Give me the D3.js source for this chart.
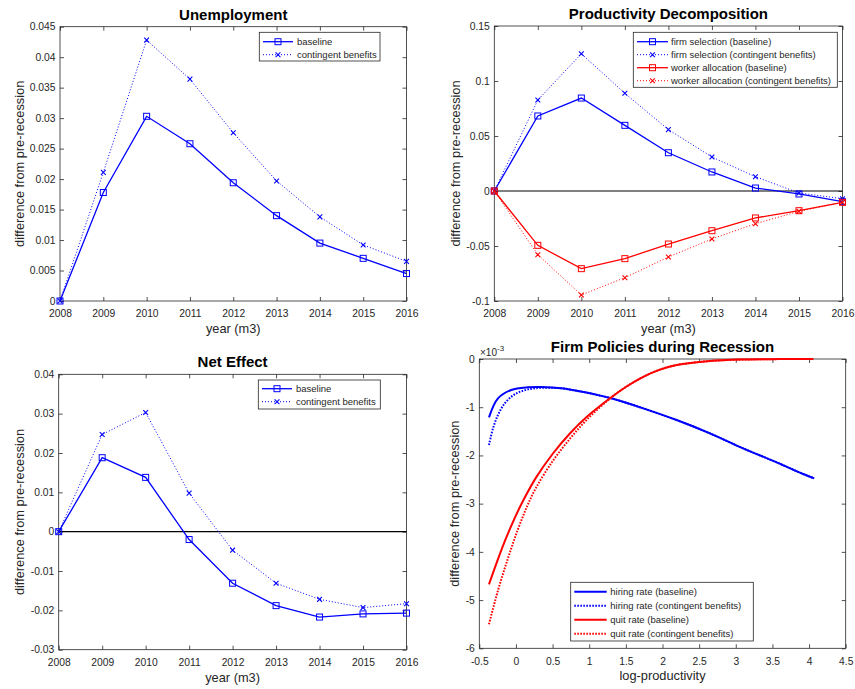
<!DOCTYPE html>
<html>
<head>
<meta charset="utf-8">
<script src="https://cdn.jsdelivr.net/npm/d3@7"></script>
<style>
  body { margin: 0; background: #fff; }
  svg text { font-family: "Liberation Sans", Arial, Helvetica, sans-serif; fill: #262626; }
</style>
</head>
<body>
<svg id="fig" width="855" height="689"></svg>
<script>
// ---------- data ----------
const years = [2008, 2009, 2010, 2011, 2012, 2013, 2014, 2015, 2016];
const yearLabels = ["2008", "2009", "2010", "2011", "2012", "2013", "2014", "2015", "2016"];

// Unemployment
const unempBaseline   = [0, 0.0178, 0.0303, 0.0258, 0.0194, 0.0140, 0.0095, 0.0070, 0.0045];
const unempContingent = [0, 0.0211, 0.0428, 0.0364, 0.0276, 0.0197, 0.0138, 0.0092, 0.0065];
const unempTickLabels = ["0", "0.005", "0.01", "0.015", "0.02", "0.025", "0.03", "0.035", "0.04", "0.045"];

// Productivity decomposition
const firmSelBaseline     = [0, 0.0682, 0.0845, 0.0597, 0.0348, 0.0173, 0.0027, -0.0027, -0.0097];
const firmSelContingent   = [0, 0.0827, 0.1248, 0.0888, 0.0558, 0.0309, 0.0130, -0.0018, -0.0070];
const workerAllocBaseline   = [0, -0.0494, -0.0706, -0.0615, -0.0482, -0.0361, -0.0245, -0.0179, -0.0103];
const workerAllocContingent = [0, -0.0579, -0.0945, -0.0788, -0.0600, -0.0436, -0.0297, -0.0185, -0.0103];
const prodTickLabels = ["-0.1", "-0.05", "0", "0.05", "0.1", "0.15"];

// Net effect
const netBaseline   = [0, 0.0188, 0.0138, -0.0020, -0.0131, -0.0188, -0.0217, -0.0209, -0.0207];
const netContingent = [0, 0.0247, 0.0303, 0.0098, -0.0047, -0.0131, -0.0172, -0.0193, -0.0183];
const netTickLabels = ["-0.03", "-0.02", "-0.01", "0", "0.01", "0.02", "0.03", "0.04"];

// Firm policies (values in units of 1e-3)
const hiringBaseX = [-0.368, -0.245, -0.063, 0.164, 0.346, 0.619, 0.846, 1.074, 1.30, 1.737, 2.193, 2.647, 3.10, 3.557, 3.92, 4.07];
const hiringBaseY = [-1.21, -0.815, -0.643, -0.587, -0.581, -0.608, -0.664, -0.733, -0.815, -1.023, -1.266, -1.542, -1.853, -2.143, -2.386, -2.476];
const hiringContX = [-0.368, -0.313, -0.245, -0.153, -0.017, 0.164, 0.392, 0.619, 0.846, 1.074, 1.30, 1.737, 2.193, 2.647, 3.10, 3.557, 3.92, 4.07];
const hiringContY = [-1.784, -1.438, -1.162, -0.920, -0.733, -0.630, -0.595, -0.608, -0.664, -0.733, -0.815, -1.023, -1.266, -1.542, -1.853, -2.143, -2.386, -2.476];
const quitBaseX = [-0.368, -0.245, -0.131, -0.017, 0.087, 0.278, 0.505, 0.733, 0.96, 1.283, 1.51, 1.737, 1.965, 2.193, 2.647, 3.10, 3.60, 4.06];
const quitBaseY = [-4.675, -4.15, -3.70, -3.30, -2.97, -2.45, -1.96, -1.55, -1.21, -0.815, -0.57, -0.37, -0.22, -0.125, -0.042, -0.011, -0.002, 0];
const quitContX = [-0.368, -0.245, -0.108, 0.028, 0.151, 0.278, 0.505, 0.733, 0.96, 1.283, 1.51, 1.737, 1.965, 2.193, 2.647, 3.10, 3.60, 4.06];
const quitContY = [-5.50, -4.80, -4.13, -3.53, -3.06, -2.66, -2.11, -1.66, -1.27, -0.82, -0.57, -0.37, -0.22, -0.125, -0.042, -0.011, -0.002, 0];
const policyXTickLabels = ["-0.5", "0", "0.5", "1", "1.5", "2", "2.5", "3", "3.5", "4", "4.5"];
const policyYTickLabels = ["-6", "-5", "-4", "-3", "-2", "-1", "0"];

// ---------- drawing helpers ----------
const svg = d3.select("#fig");
const BLUE = "#0000ff", RED = "#ff0000";
const AX = "#262626";

function makePanel(cfg) {
  const g = svg.append("g");
  const x = d3.scaleLinear().domain(cfg.xDomain).range([cfg.left, cfg.right]);
  const y = d3.scaleLinear().domain(cfg.yDomain).range([cfg.bottom, cfg.top]);
  const xVals = cfg.xLabels.map(Number);
  const yVals = cfg.yLabels.map(Number);

  // white plot area
  g.append("rect").attr("x", cfg.left).attr("y", cfg.top)
    .attr("width", cfg.right - cfg.left).attr("height", cfg.bottom - cfg.top)
    .attr("fill", "#fff");

  const fmtX = (d, i) => cfg.xLabels[i];
  const fmtY = (d, i) => cfg.yLabels[i];

  const styleAxis = sel => {
    sel.select(".domain").remove();
    sel.selectAll("line").attr("stroke", AX).attr("stroke-width", 0.8);
    sel.selectAll("text").attr("font-size", 10.3).attr("fill", AX);
  };

  g.append("g").attr("transform", `translate(0,${cfg.bottom})`)
    .call(d3.axisBottom(x).tickValues(xVals).tickFormat(fmtX).tickSize(-4).tickPadding(9))
    .call(styleAxis);
  g.append("g").attr("transform", `translate(0,${cfg.top})`)
    .call(d3.axisTop(x).tickValues(xVals).tickFormat("").tickSize(-4))
    .call(styleAxis);
  g.append("g").attr("transform", `translate(${cfg.left},0)`)
    .call(d3.axisLeft(y).tickValues(yVals).tickFormat(fmtY).tickSize(-4).tickPadding(4.5))
    .call(styleAxis);
  g.append("g").attr("transform", `translate(${cfg.right},0)`)
    .call(d3.axisRight(y).tickValues(yVals).tickFormat("").tickSize(-4))
    .call(styleAxis);

  // frame
  g.append("rect").attr("x", cfg.left).attr("y", cfg.top)
    .attr("width", cfg.right - cfg.left).attr("height", cfg.bottom - cfg.top)
    .attr("fill", "none").attr("stroke", AX).attr("stroke-width", 0.8);

  // title
  svg.append("text").attr("x", (cfg.left + cfg.right) / 2).attr("y", cfg.top - 7)
    .attr("text-anchor", "middle").attr("font-size", 15).attr("font-weight", "bold")
    .style("fill", "#000").text(cfg.title);
  // axis labels
  svg.append("text").attr("x", (cfg.left + cfg.right) / 2).attr("y", cfg.bottom + 32)
    .attr("text-anchor", "middle").attr("font-size", 12.8).text(cfg.xTitle);
  svg.append("text")
    .attr("transform", `translate(${cfg.yTitleX},${(cfg.top + cfg.bottom) / 2}) rotate(-90)`)
    .attr("text-anchor", "middle").attr("font-size", 12.8).text(cfg.yTitle);

  const layer = svg.append("g");
  if (cfg.zeroLine) {
    layer.append("line").attr("x1", cfg.left).attr("x2", cfg.right)
      .attr("y1", y(0)).attr("y2", y(0)).attr("stroke", "#000").attr("stroke-width", 1.1);
  }
  return { x, y, layer, cfg };
}

function squareMarker(sel, cx, cy, color) {
  sel.append("rect").attr("x", cx - 3).attr("y", cy - 3).attr("width", 6).attr("height", 6)
    .attr("fill", "none").attr("stroke", color).attr("stroke-width", 1);
}
function crossMarker(sel, cx, cy, color) {
  sel.append("path")
    .attr("d", `M${cx - 2.4},${cy - 2.4}L${cx + 2.4},${cy + 2.4}M${cx - 2.4},${cy + 2.4}L${cx + 2.4},${cy - 2.4}`)
    .attr("stroke", color).attr("stroke-width", 1.1).attr("fill", "none");
}

function yearSeries(p, values, color, style) {
  const pts = years.map((yr, i) => [p.x(yr), p.y(values[i])]);
  const line = d3.line();
  const path = p.layer.append("path").attr("d", line(pts)).attr("fill", "none")
    .attr("stroke", color);
  if (style === "solid") path.attr("stroke-width", 1.3);
  else path.attr("stroke-width", 1).attr("stroke-dasharray", "1,2");
  pts.forEach(([cx, cy]) => {
    if (style === "solid") squareMarker(p.layer, cx, cy, color);
    else crossMarker(p.layer, cx, cy, color);
  });
}

function curveSeries(p, xs, ys, color, style) {
  const pts = xs.map((v, i) => [p.x(v), p.y(ys[i])]);
  const path = p.layer.append("path")
    .attr("d", d3.line().curve(d3.curveCatmullRom.alpha(0.5))(pts))
    .attr("fill", "none").attr("stroke", color).attr("stroke-width", 2);
  if (style !== "solid") path.attr("stroke-dasharray", "1.6,1.4");
}

function legend(box, entries, opts) {
  const g = svg.append("g");
  g.append("rect").attr("x", box[0]).attr("y", box[1])
    .attr("width", box[2] - box[0]).attr("height", box[3] - box[1])
    .attr("fill", "#fff").attr("stroke", AX).attr("stroke-width", 0.8);
  entries.forEach((e, i) => {
    const yy = opts.rowY[i];
    const ln = g.append("line").attr("x1", opts.lineX[0]).attr("x2", opts.lineX[1])
      .attr("y1", yy).attr("y2", yy).attr("stroke", e.color);
    if (e.style === "solid") ln.attr("stroke-width", opts.thick ? 2 : 1.3);
    else ln.attr("stroke-width", opts.thick ? 2 : 1).attr("stroke-dasharray", opts.thick ? "1.6,1.4" : "1,2");
    const mid = (opts.lineX[0] + opts.lineX[1]) / 2;
    if (e.marker === "square") squareMarker(g, mid, yy, e.color);
    if (e.marker === "cross") crossMarker(g, mid, yy, e.color);
    g.append("text").attr("x", opts.textX).attr("y", yy).attr("dy", "0.35em")
      .attr("font-size", 9.5).attr("fill", "#000").text(e.label);
  });
}

// ---------- panel 1: Unemployment ----------
const p1 = makePanel({
  left: 60, right: 406.5, top: 26.7, bottom: 301,
  xDomain: [2008, 2016], yDomain: [0, 0.045],
  xLabels: yearLabels, yLabels: unempTickLabels,
  title: "Unemployment", xTitle: "year (m3)", yTitle: "difference from pre-recession", yTitleX: 23.5
});
yearSeries(p1, unempBaseline, BLUE, "solid");
yearSeries(p1, unempContingent, BLUE, "dotted");
legend([259.3, 32.3, 380, 61], [
  { label: "baseline", color: BLUE, style: "solid", marker: "square" },
  { label: "contingent benefits", color: BLUE, style: "dotted", marker: "cross" }
], { rowY: [41.7, 54.7], lineX: [263, 293], textX: 297 });

// ---------- panel 2: Productivity Decomposition ----------
const p2 = makePanel({
  left: 494.3, right: 842.5, top: 26, bottom: 301,
  xDomain: [2008, 2016], yDomain: [-0.1, 0.15],
  xLabels: yearLabels, yLabels: prodTickLabels,
  title: "Productivity Decomposition", xTitle: "year (m3)", yTitle: "difference from pre-recession", yTitleX: 460,
  zeroLine: true
});
yearSeries(p2, firmSelBaseline, BLUE, "solid");
yearSeries(p2, firmSelContingent, BLUE, "dotted");
yearSeries(p2, workerAllocBaseline, RED, "solid");
yearSeries(p2, workerAllocContingent, RED, "dotted");
legend([633.3, 32.3, 837.3, 87.3], [
  { label: "firm selection (baseline)", color: BLUE, style: "solid", marker: "square" },
  { label: "firm selection (contingent benefits)", color: BLUE, style: "dotted", marker: "cross" },
  { label: "worker allocation (baseline)", color: RED, style: "solid", marker: "square" },
  { label: "worker allocation (contingent benefits)", color: RED, style: "dotted", marker: "cross" }
], { rowY: [41.7, 54.7, 67.7, 80.7], lineX: [637, 668], textX: 671 });

// ---------- panel 3: Net Effect ----------
const p3 = makePanel({
  left: 58.7, right: 406.5, top: 374.3, bottom: 649.7,
  xDomain: [2008, 2016], yDomain: [-0.03, 0.04],
  xLabels: yearLabels, yLabels: netTickLabels,
  title: "Net Effect", xTitle: "year (m3)", yTitle: "difference from pre-recession", yTitleX: 24,
  zeroLine: true
});
yearSeries(p3, netBaseline, BLUE, "solid");
yearSeries(p3, netContingent, BLUE, "dotted");
legend([258.3, 380, 380.3, 409], [
  { label: "baseline", color: BLUE, style: "solid", marker: "square" },
  { label: "contingent benefits", color: BLUE, style: "dotted", marker: "cross" }
], { rowY: [388.7, 401.7], lineX: [262, 292], textX: 296 });

// ---------- panel 4: Firm Policies during Recession ----------
const p4 = makePanel({
  left: 479.3, right: 845.7, top: 359, bottom: 648.3,
  xDomain: [-0.5, 4.5], yDomain: [-6, 0],
  xLabels: policyXTickLabels, yLabels: policyYTickLabels,
  title: "Firm Policies during Recession", xTitle: "log-productivity", yTitle: "difference from pre-recession", yTitleX: 459
});
// axis exponent
const expo = svg.append("text").attr("x", 480).attr("y", 355.5).attr("font-size", 10).attr("fill", AX);
expo.append("tspan").text("\u00d710");
expo.append("tspan").attr("dy", -5).attr("font-size", 8).text("-3");

curveSeries(p4, hiringBaseX, hiringBaseY, BLUE, "solid");
curveSeries(p4, hiringContX, hiringContY, BLUE, "dotted");
curveSeries(p4, quitBaseX, quitBaseY, RED, "solid");
curveSeries(p4, quitContX, quitContY, RED, "dotted");
legend([570.7, 582.3, 753.3, 641], [
  { label: "hiring rate (baseline)", color: BLUE, style: "solid" },
  { label: "hiring rate (contingent benefits)", color: BLUE, style: "dotted" },
  { label: "quit rate (baseline)", color: RED, style: "solid" },
  { label: "quit rate (contingent benefits)", color: RED, style: "dotted" }
], { rowY: [591.7, 605.7, 619.7, 633.7], lineX: [574.3, 606.7], textX: 610.3, thick: true });
</script>
</body>
</html>
